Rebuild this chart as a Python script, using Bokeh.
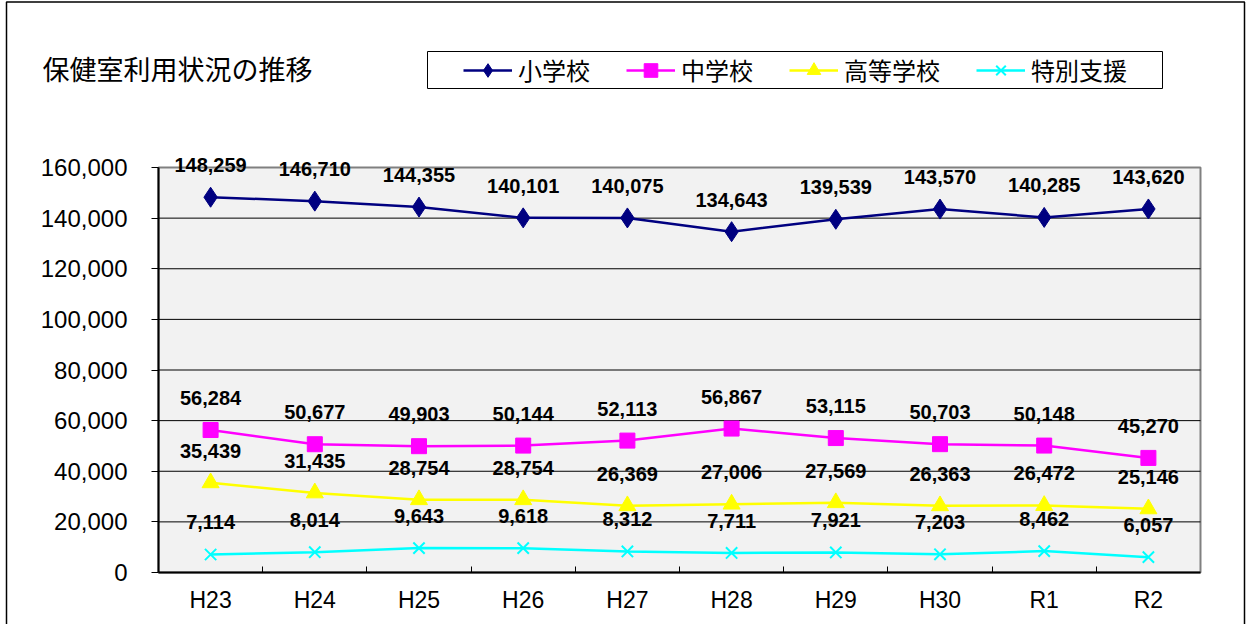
from bokeh.plotting import figure
from bokeh.models import (ColumnDataSource, LabelSet, Label, Legend, LegendItem, Range1d,
                          FixedTicker, NumeralTickFormatter, BoxAnnotation, LinearAxis)
from bokeh.embed import file_html
from bokeh.resources import INLINE
from bokeh.core.properties import value

categories = ["H23", "H24", "H25", "H26", "H27", "H28", "H29", "H30", "R1", "R2"]
elementary = [148259, 146710, 144355, 140101, 140075, 134643, 139539, 143570, 140285, 143620]
junior_high = [56284, 50677, 49903, 50144, 52113, 56867, 53115, 50703, 50148, 45270]
high_school = [35439, 31435, 28754, 28754, 26369, 27006, 27569, 26363, 26472, 25146]
special = [7114, 8014, 9643, 9618, 8312, 7711, 7921, 7203, 8462, 6057]
series_names = ["小学校", "中学校", "高等学校", "特別支援"]
title_text = "保健室利用状況の推移"
y_ticks = [0, 20000, 40000, 60000, 80000, 100000, 120000, 140000, 160000]

N = len(categories)
YMAX = 160000
xs = [i + 0.5 for i in range(N)]

# layout (pixels)
W, H = 1250, 624
FL, FR, FT, FB = 4, 1246, 0, 624          # frame edges
PL, PR, PT, PB = 158, 1200, 167, 572      # plot area edges
kx = (PR - PL) / N                        # px per x unit
ky = (PB - PT) / YMAX                     # px per y unit
def dx(px): return (px - PL) / kx
def dy(py): return (PB - py) / ky

p = figure(width=W, height=H, output_backend="svg", toolbar_location=None, title=None,
           x_range=Range1d(dx(FL), dx(FR)), y_range=Range1d(dy(FB), dy(FT)),
           x_axis_type=None, y_axis_type=None,
           min_border_left=FL, min_border_right=W - FR, min_border_top=FT, min_border_bottom=H - FB)
p.background_fill_color = "white"
p.border_fill_color = "white"
p.outline_line_color = None
p.xgrid.visible = False
p.ygrid.visible = False

# plot area background
p.quad(left=[0], right=[N], bottom=[0], top=[YMAX], fill_color="#F2F2F2",
       line_color="#808080", line_width=2)
# horizontal grid lines at the tick values
gy = [t for t in y_ticks if 0 < t < YMAX]
p.segment(x0=[0] * len(gy), x1=[N] * len(gy), y0=gy, y1=gy, line_color="black", line_width=1)

# y axis
yaxis = LinearAxis(fixed_location=0, bounds=(0, YMAX))
yaxis.ticker = FixedTicker(ticks=y_ticks)
yaxis.formatter = NumeralTickFormatter(format="0,0")
yaxis.major_label_text_font = "Liberation Sans"
yaxis.major_label_text_font_size = "24px"
yaxis.major_label_text_color = "black"
yaxis.major_tick_in = 0
yaxis.major_tick_out = 7
yaxis.minor_tick_line_color = None
yaxis.major_label_standoff = 24
yaxis.axis_line_width = 2
yaxis.axis_line_color = "black"
p.add_layout(yaxis, "left")

# x axis
xaxis = LinearAxis(fixed_location=0, bounds=(0, N))
xaxis.ticker = FixedTicker(ticks=xs, minor_ticks=list(range(1, N)))
xaxis.major_label_overrides = {x: c for x, c in zip(xs, categories)}
xaxis.major_label_text_font = "Liberation Sans"
xaxis.major_label_text_font_size = "23px"
xaxis.major_label_text_color = "black"
xaxis.major_tick_in = 0
xaxis.major_tick_out = 0
xaxis.minor_tick_in = 6
xaxis.minor_tick_out = 0
xaxis.minor_tick_line_color = "black"
xaxis.minor_tick_line_width = 1
xaxis.major_label_standoff = 14
xaxis.axis_line_width = 2
xaxis.axis_line_color = "black"
p.add_layout(xaxis, "below")

colors = ["#000080", "#FF00FF", "#FFFF00", "#00FFFF"]
datasets = [elementary, junior_high, high_school, special]
markers = ["diamond", "square", "triangle", "x"]
msizes = [20, 15, 17, 16]

items = []
for name, vals, col, mk, ms in zip(series_names, datasets, colors, markers, msizes):
    src = ColumnDataSource(dict(x=xs, y=vals, t=[f"{v:,}" for v in vals]))
    ln = p.line("x", "y", source=src, line_color=col, line_width=2.5)
    if mk == "x":
        sc = p.scatter("x", "y", source=src, marker=mk, size=ms, line_color=col, line_width=2)
    else:
        sc = p.scatter("x", "y", source=src, marker=mk, size=ms, fill_color=col, line_color=col)
    items.append(LegendItem(label=name, renderers=[ln, sc]))
    lbl = LabelSet(x="x", y="y", text="t", source=src, y_offset=32,
                   text_align="center", text_baseline="middle",
                   text_font=value("Liberation Sans"), text_font_style="bold",
                   text_font_size="20px", text_color="black")
    p.add_layout(lbl)

legend = Legend(items=items, orientation="horizontal", location=(463 - FL, FB - 87),
                glyph_width=49, glyph_height=34, label_standoff=6, spacing=36,
                padding=0, margin=0, border_line_alpha=0, background_fill_alpha=0,
                label_text_font="Noto Sans CJK JP", label_text_font_size="24px",
                label_text_color="black", label_height=34)
p.add_layout(legend, "center")

# legend frame
p.add_layout(BoxAnnotation(left=dx(427), right=dx(1162), bottom=dy(88), top=dy(51),
                           fill_alpha=0, line_color="black", line_width=1, line_alpha=1))
# outer chart border
p.add_layout(BoxAnnotation(left=dx(6), right=dx(1244), bottom=dy(700), top=dy(1.5),
                           fill_alpha=0, line_color="black", line_width=1.5, line_alpha=1))

p.add_layout(Label(x=dx(42), y=dy(68), text=title_text,
                   text_font="Noto Sans CJK JP", text_font_size="27px", text_color="black",
                   text_align="left", text_baseline="middle"))

open("out.html", "w").write(file_html(p, INLINE))
